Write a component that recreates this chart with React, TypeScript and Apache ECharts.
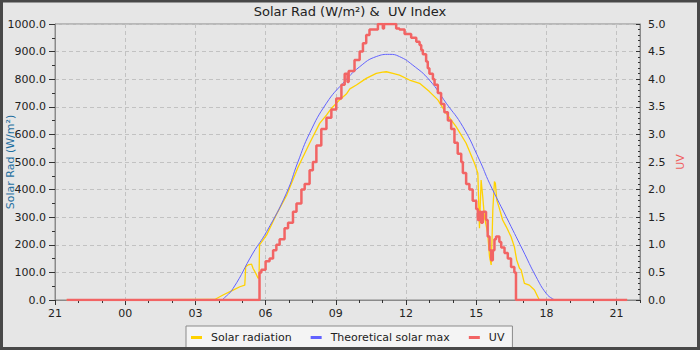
import React, { useEffect, useRef } from 'react';
import * as echarts from 'echarts';

// hours since midnight (negative = previous evening)
const solarHours = [-2.5, 3.83, 4.18, 4.61, 4.9, 5.11, 5.15, 5.25, 5.4, 5.46, 5.58, 5.68, 5.72, 5.74, 6.04, 6.46, 6.89, 7.38, 7.88, 8.31, 8.6, 8.81, 9.16, 9.45, 9.6, 9.88, 10.3, 10.73, 11.0, 11.16, 11.44, 11.72, 12.15, 12.58, 13.0, 13.36, 13.72, 14.14, 14.57, 14.93, 15.07, 15.14, 15.21, 15.28, 15.35, 15.49, 15.57, 15.64, 15.68, 15.71, 15.78, 15.82, 15.88, 15.99, 16.13, 16.28, 16.49, 16.63, 16.73, 16.85, 16.92, 17.06, 17.27, 17.49, 17.63, 17.7, 21.45];
const solarValues = [0, 2, 18, 36, 48, 54, 121, 127, 130, 115, 97, 79, 79, 200, 235, 310, 378, 480, 568, 640, 670, 694, 725, 746, 765, 779, 803, 821, 826, 827, 821, 815, 797, 785, 755, 725, 676, 628, 568, 495, 459, 260, 435, 374, 302, 242, 157, 127, 229, 326, 429, 423, 362, 332, 290, 266, 229, 193, 145, 115, 109, 60, 54, 36, 12, 0, 0];

const theoHours = [4.11, 4.18, 4.61, 5.46, 6.04, 6.89, 7.38, 7.88, 8.6, 9.3, 10.02, 10.73, 11.3, 11.72, 12.29, 13.0, 13.72, 14.43, 15.14, 15.57, 16.28, 16.99, 17.56, 17.99, 18.27, 18.41];
const theoValues = [0, 3, 42, 170, 247, 387, 500, 604, 713, 785, 845, 882, 890, 882, 851, 797, 713, 628, 507, 423, 302, 181, 84, 24, 4, 0];

const uvHours = [-2.5, 5.74, 5.82, 6.0, 6.17, 6.32, 6.46, 6.6, 6.81, 6.96, 7.17, 7.32, 7.53, 7.67, 7.88, 8.02, 8.17, 8.38, 8.6, 8.81, 9.02, 9.24, 9.38, 9.5, 9.55, 9.8, 10.02, 10.16, 10.3, 10.44, 10.73, 10.8, 11.01, 11.06, 11.58, 11.72, 11.94, 12.22, 12.44, 12.58, 12.65, 12.72, 12.86, 12.93, 13.0, 13.15, 13.22, 13.36, 13.5, 13.64, 13.79, 13.93, 14.07, 14.21, 14.36, 14.43, 14.57, 14.71, 14.85, 15.0, 15.07, 15.14, 15.21, 15.28, 15.42, 15.49, 15.57, 15.64, 15.71, 15.78, 15.85, 15.99, 16.07, 16.21, 16.35, 16.49, 16.63, 16.7, 21.45];
const uvValues = [0, 0.5, 0.55, 0.7, 0.75, 0.9, 1.0, 1.1, 1.3, 1.4, 1.6, 1.75, 2.0, 2.1, 2.35, 2.5, 2.8, 3.1, 3.3, 3.45, 3.65, 3.9, 4.1, 3.95, 4.15, 4.35, 4.5, 4.65, 4.8, 4.9, 4.9, 5.0, 4.92, 5.0, 4.92, 4.9, 4.82, 4.75, 4.68, 4.62, 4.53, 4.45, 4.32, 4.2, 4.1, 4.0, 3.9, 3.75, 3.55, 3.4, 3.25, 3.1, 2.85, 2.65, 2.5, 2.3, 2.1, 2.0, 1.8, 1.65, 1.45, 1.6, 1.4, 1.6, 1.45, 1.15, 0.9, 0.72, 0.9, 1.1, 1.15, 1.05, 0.95, 0.85, 0.75, 0.6, 0.5, 0, 0];

const leftTicks = { min: 0, max: 1000, interval: 100 };
const rightTicks = { min: 0, max: 5, interval: 0.5 };
const xTicks = { min: -3, max: 22, interval: 3 };

const FONT = 'DejaVu Sans';

export default function App() {
  const ref = useRef<HTMLDivElement>(null);
  useEffect(() => {
    if (!ref.current) return;
    const chart = echarts.init(ref.current, undefined, { renderer: 'svg' });
    const zip = (a: number[], b: number[]) => a.map((v, i) => [v, b[i]]);
    const labelStyle = { fontFamily: FONT, fontSize: 11, color: '#222' };
    chart.setOption({
      animation: false,
      backgroundColor: '#e6e6e6',
      title: {
        text: 'Solar Rad (W/m²) &  UV Index',
        left: 'center',
        top: 5,
        padding: 0,
        textStyle: { fontFamily: FONT, fontSize: 13, fontWeight: 'normal', color: '#222' },
      },
      grid: {
        left: 55, right: 60, top: 24, bottom: 50,
        outerBoundsMode: 'none', containLabel: false,
        show: true, borderColor: '#8a8a8a', borderWidth: 1, backgroundColor: 'transparent',
      },
      legend: {
        left: 186,
        top: 326,
        padding: [6, 8, 6, 5],
        itemGap: 19,
        itemWidth: 11,
        itemHeight: 3,
        icon: 'rect',
        backgroundColor: '#f4f4f4',
        borderColor: '#8a8a8a',
        borderWidth: 1,
        borderRadius: 0,
        textStyle: { fontFamily: FONT, fontSize: 11, color: '#222', padding: [0, 0, 0, 4] },
        data: ['Solar radiation', 'Theoretical solar max', 'UV'],
      },
      xAxis: [
        {
          type: 'value',
          min: xTicks.min,
          max: xTicks.max,
          interval: xTicks.interval,
          position: 'bottom',
          axisLine: { show: true, onZero: false, lineStyle: { color: '#8a8a8a' } },
          axisTick: { show: true, length: 5, lineStyle: { color: '#333' } },
          axisLabel: {
            ...labelStyle,
            margin: 8,
            showMaxLabel: false,
            formatter: (v: number) => String(((v % 24) + 24) % 24).padStart(2, '0'),
          },
          splitLine: { show: true, lineStyle: { color: '#c2c2c2', type: [4, 3] } },
        },
        {
          type: 'value',
          min: xTicks.min,
          max: xTicks.max,
          interval: 1,
          position: 'bottom',
          axisLine: { show: false, onZero: false },
          axisTick: { show: true, length: 3, lineStyle: { color: '#333' } },
          axisLabel: { show: false },
          splitLine: { show: false },
        },
      ],
      yAxis: [
        {
          type: 'value',
          min: leftTicks.min,
          max: leftTicks.max,
          interval: leftTicks.interval,
          position: 'left',
          name: 'Solar Rad (W/m²)',
          nameLocation: 'middle',
          nameGap: 39,
          nameRotate: 90,
          nameMoveOverlap: false,
          nameTextStyle: { fontFamily: FONT, fontSize: 11, color: '#1f6fa0' },
          axisLine: { show: true, onZero: false, lineStyle: { color: '#8a8a8a' } },
          axisTick: { show: true, length: 6, lineStyle: { color: '#333' } },
          minorTick: { show: true, splitNumber: 2, length: 3, lineStyle: { color: '#333' } },
          axisLabel: { ...labelStyle, margin: 9, formatter: (v: number) => v.toFixed(1) },
          splitLine: { show: true, lineStyle: { color: '#c2c2c2', type: [4, 3] } },
        },
        {
          type: 'value',
          min: rightTicks.min,
          max: rightTicks.max,
          interval: rightTicks.interval,
          position: 'right',
          name: 'UV',
          nameLocation: 'middle',
          nameGap: 35,
          nameRotate: 90,
          nameMoveOverlap: false,
          nameTextStyle: { fontFamily: FONT, fontSize: 11, color: '#f06060' },
          axisLine: { show: true, onZero: false, lineStyle: { color: '#8a8a8a' } },
          axisTick: { show: true, inside: true, length: 4, lineStyle: { color: '#333' } },
          minorTick: { show: true, splitNumber: 5, length: 2, lineStyle: { color: '#333' } },
          axisLabel: { ...labelStyle, margin: 8, formatter: (v: number) => v.toFixed(1) },
          splitLine: { show: false },
        },
      ],
      series: [
        {
          name: 'Solar radiation',
          type: 'line',
          showSymbol: false,
          color: '#ffd200',
          lineStyle: { width: 1.3, color: '#ffd200' },
          data: zip(solarHours, solarValues),
          z: 2,
        },
        {
          name: 'Theoretical solar max',
          type: 'line',
          smooth: true,
          showSymbol: false,
          color: '#6262ff',
          lineStyle: { width: 1, color: '#6262ff' },
          data: zip(theoHours, theoValues),
          z: 3,
        },
        {
          name: 'UV',
          type: 'line',
          step: 'end',
          yAxisIndex: 1,
          showSymbol: false,
          color: '#f26464',
          lineStyle: { width: 2.5, color: '#f26464' },
          data: zip(uvHours, uvValues),
          z: 4,
        },
      ],
      graphic: [
        {
          type: 'rect',
          z: 100,
          silent: true,
          shape: { x: 1.5, y: 1, width: 697, height: 347.5 },
          style: { fill: 'transparent', stroke: '#484848', lineWidth: 3 },
        },
      ],
    });
    return () => chart.dispose();
  }, []);
  return (
    <div
      ref={ref}
      style={{ position: 'fixed', left: 0, top: 0, width: 700, height: 350 }}
    />
  );
}
